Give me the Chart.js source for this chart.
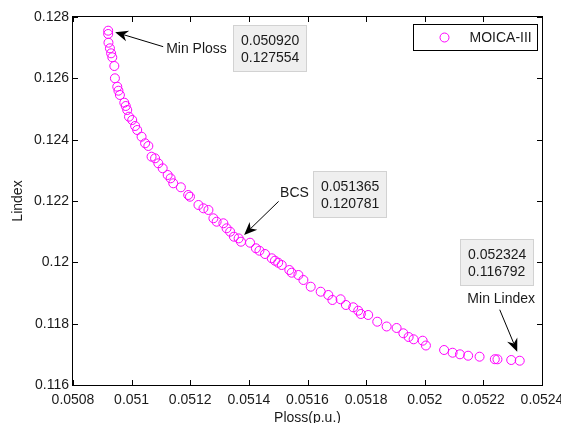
<!DOCTYPE html>
<html>
<head>
<meta charset="utf-8">
<script src="https://cdn.jsdelivr.net/npm/chart.js@4/dist/chart.umd.min.js"></script>
<style>
  html, body { margin: 0; padding: 0; background: #fff; }
  #pareto { display: block; }
</style>
</head>
<body>
<canvas id="pareto" width="561" height="423"></canvas>
<script>
// Pareto front: power loss vs voltage stability index
const ploss = [
  0.050920, 0.050920, 0.050921, 0.050926, 0.050930, 0.050934, 0.050941, 0.050943, 0.050951, 0.050955,
  0.050960, 0.050975, 0.050980, 0.050985, 0.050991, 0.051002, 0.051012, 0.051019, 0.051034, 0.051046,
  0.051057, 0.051068, 0.051080, 0.051091, 0.051106, 0.051123, 0.051133, 0.051142, 0.051168, 0.051193,
  0.051199, 0.051228, 0.051245, 0.051262, 0.051279, 0.051290, 0.051313, 0.051324, 0.051336, 0.051349,
  0.051365, 0.051373, 0.051404, 0.051424, 0.051436, 0.051455, 0.051478, 0.051489, 0.051500, 0.051512,
  0.051538, 0.051546, 0.051569, 0.051586, 0.051611, 0.051645, 0.051671, 0.051685, 0.051713, 0.051731,
  0.051756, 0.051773, 0.051782, 0.051807, 0.051838, 0.051870, 0.051904, 0.051927, 0.051945, 0.051962,
  0.051993, 0.052004, 0.052066, 0.052095, 0.052120, 0.052148, 0.052187, 0.052239, 0.052248, 0.052295,
  0.052324
];
const lindex = [
  0.127554, 0.127446, 0.127162, 0.126979, 0.126816, 0.126686, 0.126402, 0.126001, 0.125727, 0.125597,
  0.125457, 0.125206, 0.125098, 0.124967, 0.124749, 0.124641, 0.124446, 0.124315, 0.124097, 0.123882,
  0.123794, 0.123445, 0.123392, 0.123229, 0.123066, 0.122848, 0.122740, 0.122577, 0.122447, 0.122196,
  0.122140, 0.121870, 0.121762, 0.121707, 0.121436, 0.121325, 0.121273, 0.121110, 0.120999, 0.120836,
  0.120781, 0.120673, 0.120640, 0.120458, 0.120379, 0.120272, 0.120132, 0.120053, 0.119988, 0.119913,
  0.119750, 0.119662, 0.119587, 0.119424, 0.119205, 0.119042, 0.118935, 0.118772, 0.118795, 0.118609,
  0.118534, 0.118423, 0.118315, 0.118283, 0.118064, 0.117908, 0.117859, 0.117686, 0.117565, 0.117490,
  0.117445, 0.117288, 0.117141, 0.117053, 0.117001, 0.116955, 0.116923, 0.116841, 0.116838, 0.116815,
  0.116792
];
const xTicks = [0.0508, 0.0510, 0.0512, 0.0514, 0.0516, 0.0518, 0.0520, 0.0522, 0.0524];
const yTicks = [0.116, 0.118, 0.120, 0.122, 0.124, 0.126, 0.128];
const seriesName = 'MOICA-III';
const markLabels = ['Min Ploss', 'BCS', 'Min Lindex'];
const markIndex = [0, 40, 80];

const FONT = "'Liberation Sans', Arial, Helvetica, sans-serif";
const SIZE = 14;
const INK = '#1a1a1a';
const MAGENTA = '#ff00ff';

// callout geometry, in px relative to the marked point
const callouts = [
  { tip: [7, 1.5], tail: [55, 16], text: [58, 18.5], align: 'left', box: [125, -6] },
  { tip: [5.5, -3.5], tail: [40, -37], text: [41.5, -45.5], align: 'left', box: [74.5, -67.5] },
  { tip: [-2.5, -9], tail: [-20, -51], text: [-18.5, -61.5], align: 'center', box: [-60, -121.5] }
];

function fmt(v, d) {
  return String(Number(v.toFixed(d)));
}

// line with a notched, filled head at (x1, y1)
function arrow(ctx, x0, y0, x1, y1) {
  const a = Math.atan2(y1 - y0, x1 - x0);
  const len = 13, half = 5.5, notch = 9;
  const bx = x1 - len * Math.cos(a), by = y1 - len * Math.sin(a);
  const nx = x1 - notch * Math.cos(a), ny = y1 - notch * Math.sin(a);
  ctx.beginPath();
  ctx.moveTo(x0, y0);
  ctx.lineTo(nx, ny);
  ctx.lineWidth = 1;
  ctx.strokeStyle = '#000';
  ctx.stroke();
  ctx.beginPath();
  ctx.moveTo(x1, y1);
  ctx.lineTo(bx + half * Math.sin(a), by - half * Math.cos(a));
  ctx.lineTo(nx, ny);
  ctx.lineTo(bx - half * Math.sin(a), by + half * Math.cos(a));
  ctx.closePath();
  ctx.fillStyle = '#000';
  ctx.fill();
}

const matlabAxes = {
  id: 'matlabAxes',
  afterDatasetsDraw(chart) {
    const { ctx, chartArea: a, scales: { x, y } } = chart;
    const t = 5;
    ctx.save();
    ctx.strokeStyle = '#000';
    ctx.lineWidth = 1;
    ctx.strokeRect(a.left - 0.5, a.top - 0.5, a.right - a.left + 1, a.bottom - a.top + 1);
    ctx.beginPath();
    xTicks.forEach(v => {
      const px = Math.round(x.getPixelForValue(v)) + 0.5;
      ctx.moveTo(px, a.bottom); ctx.lineTo(px, a.bottom - t);
      ctx.moveTo(px, a.top); ctx.lineTo(px, a.top + t);
    });
    yTicks.forEach(v => {
      const py = Math.round(y.getPixelForValue(v)) + 0.5;
      ctx.moveTo(a.left, py); ctx.lineTo(a.left + t, py);
      ctx.moveTo(a.right, py); ctx.lineTo(a.right - t, py);
    });
    ctx.stroke();

    // x axis title sits low, partly past the bottom edge
    ctx.font = SIZE + 'px ' + FONT;
    ctx.fillStyle = INK;
    ctx.textAlign = 'center';
    ctx.textBaseline = 'middle';
    ctx.fillText(x.options.title.text, (a.left + a.right) / 2, a.bottom + 33.5);
    ctx.restore();
  },
  afterDraw(chart) {
    const { ctx, scales: { x, y } } = chart;
    ctx.save();
    ctx.font = SIZE + 'px ' + FONT;
    ctx.textBaseline = 'middle';

    // legend
    const ds = chart.data.datasets[0];
    const lx = 413.5, ly = 24.5, lw = 124, lh = 26;
    ctx.fillStyle = '#fff';
    ctx.fillRect(lx, ly, lw, lh);
    ctx.strokeStyle = '#000';
    ctx.lineWidth = 1;
    ctx.strokeRect(lx, ly, lw, lh);
    ctx.beginPath();
    ctx.arc(lx + 31, ly + 13, ds.pointRadius, 0, Math.PI * 2);
    ctx.strokeStyle = ds.pointBorderColor;
    ctx.stroke();
    ctx.fillStyle = INK;
    ctx.textAlign = 'left';
    ctx.fillText(ds.label, lx + 56, ly + 13.5);

    // callouts
    markIndex.forEach((idx, k) => {
      const c = callouts[k];
      const px = x.getPixelForValue(ploss[idx]);
      const py = y.getPixelForValue(lindex[idx]);
      arrow(ctx, px + c.tail[0], py + c.tail[1], px + c.tip[0], py + c.tip[1]);
      ctx.fillStyle = INK;
      ctx.textAlign = c.align;
      ctx.fillText(markLabels[k], px + c.text[0], py + c.text[1]);

      const lines = [ploss[idx].toFixed(6), lindex[idx].toFixed(6)];
      const tw = Math.max(...lines.map(s => ctx.measureText(s).width));
      const bx = Math.round(px + c.box[0]) + 0.5, by = Math.round(py + c.box[1]) + 0.5;
      const bw = Math.round(tw + 15), bh = 46;
      ctx.fillStyle = '#efefef';
      ctx.fillRect(bx, by, bw, bh);
      ctx.strokeStyle = '#d2d2d2';
      ctx.strokeRect(bx, by, bw, bh);
      ctx.fillStyle = INK;
      ctx.textAlign = 'left';
      ctx.fillText(lines[0], bx + 7.5, by + 15.5);
      ctx.fillText(lines[1], bx + 7.5, by + 33);
    });
    ctx.restore();
  }
};

new Chart(document.getElementById('pareto'), {
  type: 'scatter',
  data: {
    datasets: [{
      label: seriesName,
      data: ploss.map((p, i) => ({ x: p, y: lindex[i] })),
      pointStyle: 'circle',
      pointRadius: 4.5,
      pointBorderWidth: 1,
      pointBorderColor: MAGENTA,
      pointBackgroundColor: 'rgba(0,0,0,0)',
      showLine: false
    }]
  },
  options: {
    responsive: false,
    animation: false,
    events: [],
    layout: { padding: { top: 17, right: 19, left: 0, bottom: 0 } },
    plugins: {
      legend: { display: false },
      tooltip: { enabled: false }
    },
    scales: {
      x: {
        type: 'linear',
        min: xTicks[0],
        max: xTicks[xTicks.length - 1],
        grid: { display: false, drawTicks: false },
        border: { display: false },
        afterBuildTicks: s => { s.ticks = xTicks.map(v => ({ value: v })); },
        afterFit: s => { s.height = 38; s.paddingLeft = 0; s.paddingRight = 0; },
        ticks: {
          autoSkip: false,
          maxRotation: 0,
          padding: 7,
          color: INK,
          font: { family: FONT, size: SIZE },
          callback: v => fmt(v, 4)
        },
        // drawn by the matlabAxes plugin
        title: { display: false, text: 'Ploss(p.u.)' }
      },
      y: {
        type: 'linear',
        min: yTicks[0],
        max: yTicks[yTicks.length - 1],
        grid: { display: false, drawTicks: false },
        border: { display: false },
        afterBuildTicks: s => { s.ticks = yTicks.map(v => ({ value: v })); },
        afterFit: s => { s.width = 73; s.paddingTop = 0; s.paddingBottom = 0; },
        ticks: {
          autoSkip: false,
          padding: 4,
          color: INK,
          font: { family: FONT, size: SIZE },
          callback: v => fmt(v, 3)
        },
        title: {
          display: true,
          text: 'Lindex',
          color: INK,
          font: { family: FONT, size: SIZE },
          padding: { top: 10, bottom: 0 }
        }
      }
    }
  },
  plugins: [matlabAxes]
});
</script>
</body>
</html>
